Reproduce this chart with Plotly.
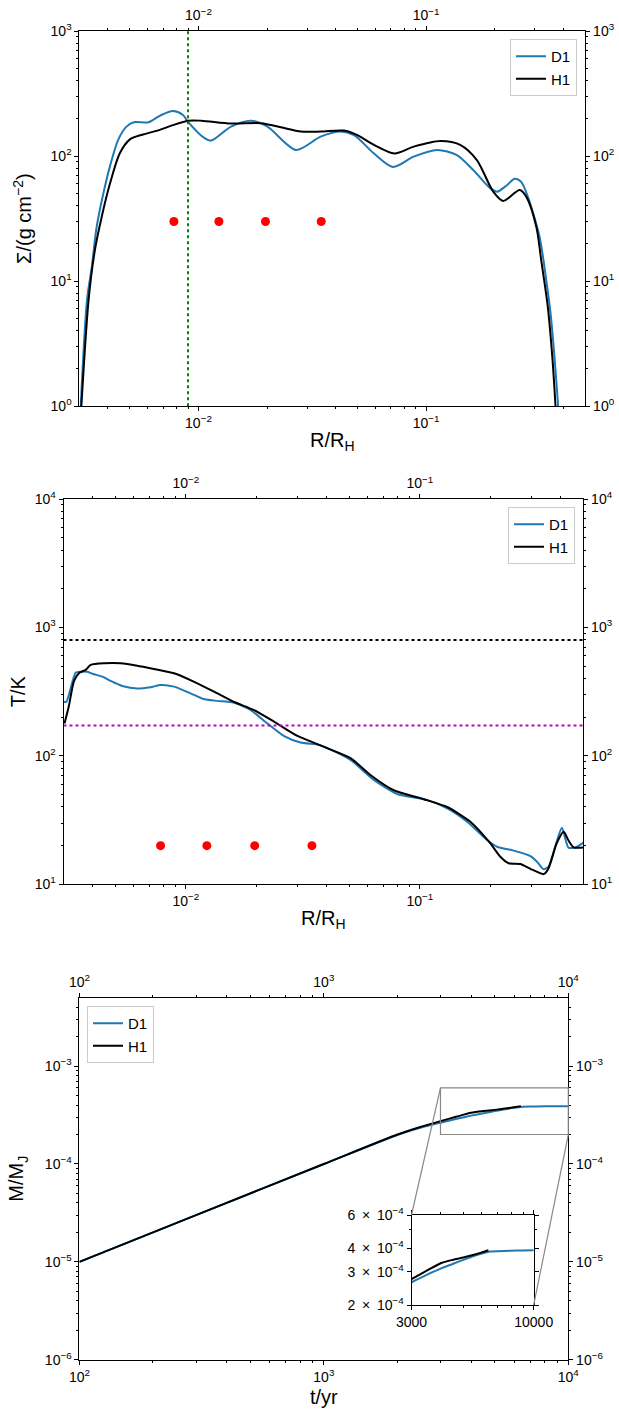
import numpy as np
import plotly.graph_objects as go

# ---------------- data ----------------
# Panel 1: surface density vs radius
r_sig_D1 = [0.00304, 0.00324, 0.0034, 0.00357, 0.00382, 0.00408, 0.00444, 0.00483, 0.00525,
            0.00601, 0.00676, 0.00773, 0.00855, 0.0090, 0.01064, 0.01137, 0.0139, 0.0170,
            0.0201, 0.0268, 0.0344, 0.0421, 0.0482, 0.059, 0.0715, 0.0882, 0.1116, 0.1365,
            0.1614, 0.19, 0.205, 0.225, 0.245, 0.262, 0.28, 0.295, 0.316, 0.335, 0.352,
            0.367, 0.38]
sig_D1 = [1.0, 7.1, 13, 27, 50, 82, 135, 172, 187,
          186, 210, 229, 213, 188, 139, 133, 172, 192,
          172, 112, 143, 157, 147, 105, 82, 99, 112, 102,
          77, 56, 52, 58, 66, 62, 47, 35, 22, 11, 5.5,
          2.35, 1.0]
r_sig_H1 = [0.00306, 0.00329, 0.00351, 0.00376, 0.00409, 0.00451, 0.0050, 0.00572, 0.00676,
            0.00773, 0.0090, 0.01029, 0.0139, 0.01884, 0.0230, 0.0282, 0.0344, 0.0436,
            0.0499, 0.059, 0.0725, 0.0882, 0.1153, 0.141, 0.167, 0.197, 0.218, 0.2576,
            0.276, 0.305, 0.32, 0.342, 0.359, 0.37]
sig_H1 = [1.0, 7, 17.8, 32.8, 60.6, 105, 136, 149, 162,
          177, 192, 192, 182, 183, 170, 157, 157, 160,
          147, 123, 105, 119, 132, 123, 93, 52, 43.8, 53.6,
          47, 27, 14.8, 6.3, 2.35, 1.0]

# Panel 2: temperature vs radius
r_T_D1 = [0.00301, 0.00309, 0.00338, 0.00355, 0.00379, 0.00405, 0.0044, 0.00477, 0.00535,
          0.0062, 0.00706, 0.0078, 0.0089, 0.01047, 0.0119, 0.0136, 0.016, 0.0189, 0.0223,
          0.0262, 0.0309, 0.037, 0.0402, 0.0506, 0.0636, 0.08, 0.1074, 0.131, 0.159,
          0.194, 0.214, 0.252, 0.297, 0.317, 0.338, 0.355, 0.379, 0.405, 0.432, 0.462, 0.5]
T_D1 = [264, 264, 444, 452, 452, 432, 414, 383, 350,
        334, 342, 356, 346, 307, 277, 268, 260, 228, 179,
        143, 127, 122, 115, 93, 65, 50.5, 45.4, 39, 30.8,
        22.1, 19.6, 18.3, 16.6, 15, 13.1, 13.7, 19.6, 27.6, 19.3, 19.3, 21.1]
r_T_H1 = [0.00303, 0.00316, 0.00332, 0.00349, 0.00373, 0.00392, 0.00447, 0.00526, 0.0062,
          0.0073, 0.0089, 0.0108, 0.0132, 0.016, 0.0195, 0.0238, 0.0300, 0.0402, 0.0506,
          0.0615, 0.0774, 0.104, 0.131, 0.164, 0.2, 0.221, 0.24, 0.269, 0.297, 0.338,
          0.355, 0.385, 0.412, 0.432, 0.454, 0.5]
T_H1 = [179, 242, 379, 440, 467, 511, 526, 526, 504,
        475, 440, 379, 316, 264, 228, 185, 143, 115, 96,
        71, 54, 46, 40, 30.8, 20.9, 16.4, 14.6, 14.4, 13.2, 12,
        13.3, 20.9, 25.7, 22, 19.4, 19.3]

# Panel 3: mass vs time
t_D1 = [100, 300, 1000, 2000, 2500, 3000, 3500, 4000, 4500, 5000, 5500, 6000, 6500,
        7000, 8000, 9000, 10000]
M_D1 = [1.0e-5, 3.0e-5, 1.0e-4, 1.98e-4, 2.35e-4, 2.64e-4, 2.9e-4, 3.12e-4, 3.3e-4,
        3.47e-4, 3.62e-4, 3.75e-4, 3.84e-4, 3.86e-4, 3.88e-4, 3.89e-4, 3.9e-4]
t_H1 = [100, 300, 1000, 2000, 2500, 3000, 3500, 4000, 4500, 5000, 5500, 6000, 6400]
M_H1 = [1.0e-5, 3.0e-5, 1.0e-4, 2.0e-4, 2.4e-4, 2.74e-4, 3.05e-4, 3.33e-4, 3.47e-4,
        3.57e-4, 3.68e-4, 3.8e-4, 3.9e-4]

# markers and reference lines
r_dots = [0.0078, 0.0123, 0.0197, 0.0346]
sig_dot_level = 30
T_dot_level = 20
r_green = 0.009
T_black_line = 800
T_magenta_line = 172

# axis ranges
r_range = [0.003, 0.5]
sig_range = [1, 1000]
T_range = [10, 1e4]
t_range = [100, 1e4]
M_range = [1e-6, 5e-3]
inset_t_range = [3000, 1e4]
inset_M_range = [2e-4, 6e-4]
inset_t_ticks = [3000, 10000]
inset_t_labels = ["3000", "10000"]
inset_t_minor = [4000, 5000, 6000, 7000, 8000, 9000]
inset_M_ticks = [2e-4, 3e-4, 4e-4, 6e-4]
inset_M_labels = ["%d\u00a0\u2009×\u2009\u00a010<sup>−4</sup>" % k for k in (2, 3, 4, 6)]
inset_M_minor = [5e-4]

BLUE = "#1f77b4"
FONT = "Liberation Sans, Arial, sans-serif"
TICKSIZE = 14

# page geometry (body margin removed in the page, see write_html below)
PAGE_W, PAGE_H, OFF = 619, 1412, 0
FIG_W, FIG_H = PAGE_W - OFF, PAGE_H - OFF


def fx(px):
    return (px - OFF) / FIG_W


def fy(py):
    return 1 - (py - OFF) / FIG_H


# plot boxes in page pixels: (left, right, top, bottom)
D1x, D1y = [fx(79.4), fx(585.3)], [fy(406.3), fy(31.0)]
D2x, D2y = [fx(63.5), fx(583.3)], [fy(884.3), fy(499.0)]
D3x, D3y = [fx(79.4), fx(568.3)], [fy(1359.7), fy(997.7)]
DIx, DIy = [fx(411.5), fx(533.7)], [fy(1305.0), fy(1215.0)]


def lg(v):
    return float(np.log10(v))


def majors(rng):
    lo, hi = int(np.ceil(lg(rng[0]) - 1e-9)), int(np.floor(lg(rng[1]) + 1e-9))
    return [10.0 ** d for d in range(lo, hi + 1)]


def minors(rng):
    out = []
    for d in range(int(np.floor(lg(rng[0]))), int(np.ceil(lg(rng[1]))) + 1):
        for m in range(2, 10):
            v = m * 10.0 ** d
            if rng[0] < v < rng[1]:
                out.append(v)
    return out


def label(v):
    e = int(round(lg(v)))
    return "10<sup>%s</sup>" % (str(e).replace("-", "−"))


def log_axis(rng, domain, anchor, side=None, overlaying=None, title=None, standoff=4,
             tickvals=None, ticktext=None, minor_vals=None, fsize=TICKSIZE, mirror=False):
    tv = tickvals if tickvals is not None else majors(rng)
    tt = ticktext if ticktext is not None else [label(v) for v in tv]
    mv = minor_vals if minor_vals is not None else minors(rng)
    ax = dict(type="log", range=[lg(rng[0]), lg(rng[1])], domain=domain, anchor=anchor,
              automargin=False,
              showline=True, linecolor="black", linewidth=1, mirror=mirror,
              ticks="outside", ticklen=4, tickwidth=1, tickcolor="black",
              tickmode="array", tickvals=tv, ticktext=tt,
              minor=dict(tickmode="array", tickvals=mv, ticks="outside", ticklen=2,
                         tickwidth=1, tickcolor="black"),
              showgrid=False, zeroline=False,
              tickfont=dict(size=fsize, color="black", family=FONT))
    if side:
        ax["side"] = side
    if overlaying:
        ax["overlaying"] = overlaying
    if title:
        ax["title"] = dict(text=title, font=dict(size=20, color="black", family=FONT),
                           standoff=standoff)
    return ax


fig = go.Figure()

# ---- Panel 1 ----
fig.add_trace(go.Scatter(x=r_sig_D1, y=sig_D1, mode="lines", name="D1",
                         line=dict(color=BLUE, width=2, shape="spline", smoothing=0.8),
                         xaxis="x", yaxis="y", legend="legend"))
fig.add_trace(go.Scatter(x=r_sig_H1, y=sig_H1, mode="lines", name="H1",
                         line=dict(color="black", width=2, shape="spline", smoothing=0.8),
                         xaxis="x", yaxis="y", legend="legend"))
fig.add_trace(go.Scatter(x=[r_green, r_green], y=sig_range, mode="lines", showlegend=False,
                         line=dict(color="#008000", width=2, dash="dot"), xaxis="x", yaxis="y"))
fig.add_trace(go.Scatter(x=r_dots, y=[sig_dot_level] * len(r_dots), mode="markers",
                         showlegend=False, marker=dict(color="red", size=9),
                         xaxis="x", yaxis="y"))
fig.add_trace(go.Scatter(x=[None], y=[None], showlegend=False, hoverinfo="skip",
                         xaxis="x2", yaxis="y2"))

# ---- Panel 2 ----
fig.add_trace(go.Scatter(x=r_T_D1, y=T_D1, mode="lines", name="D1",
                         line=dict(color=BLUE, width=2, shape="spline", smoothing=0.6),
                         xaxis="x3", yaxis="y3", legend="legend2"))
fig.add_trace(go.Scatter(x=r_T_H1, y=T_H1, mode="lines", name="H1",
                         line=dict(color="black", width=2, shape="spline", smoothing=0.6),
                         xaxis="x3", yaxis="y3", legend="legend2"))
fig.add_trace(go.Scatter(x=r_range, y=[T_black_line] * 2, mode="lines", showlegend=False,
                         line=dict(color="black", width=2, dash="dot"), xaxis="x3", yaxis="y3"))
fig.add_trace(go.Scatter(x=r_range, y=[T_magenta_line] * 2, mode="lines", showlegend=False,
                         line=dict(color="#c000c0", width=2, dash="dot"), xaxis="x3", yaxis="y3"))
fig.add_trace(go.Scatter(x=r_dots, y=[T_dot_level] * len(r_dots), mode="markers",
                         showlegend=False, marker=dict(color="red", size=9),
                         xaxis="x3", yaxis="y3"))
fig.add_trace(go.Scatter(x=[None], y=[None], showlegend=False, hoverinfo="skip",
                         xaxis="x4", yaxis="y4"))

# ---- Panel 3 ----
fig.add_trace(go.Scatter(x=t_D1, y=M_D1, mode="lines", name="D1",
                         line=dict(color=BLUE, width=2, shape="spline", smoothing=0.6),
                         xaxis="x5", yaxis="y5", legend="legend3"))
fig.add_trace(go.Scatter(x=t_H1, y=M_H1, mode="lines", name="H1",
                         line=dict(color="black", width=2, shape="spline", smoothing=0.6),
                         xaxis="x5", yaxis="y5", legend="legend3"))
fig.add_trace(go.Scatter(x=[None], y=[None], showlegend=False, hoverinfo="skip",
                         xaxis="x6", yaxis="y6"))

# ---- Inset ----
fig.add_trace(go.Scatter(x=t_D1, y=M_D1, mode="lines", showlegend=False,
                         line=dict(color=BLUE, width=2, shape="spline", smoothing=0.6),
                         xaxis="x7", yaxis="y7"))
fig.add_trace(go.Scatter(x=t_H1, y=M_H1, mode="lines", showlegend=False,
                         line=dict(color="black", width=2, shape="spline", smoothing=0.6),
                         xaxis="x7", yaxis="y7"))


def to_paper(v, rng, dom):
    return dom[0] + (lg(v) - lg(rng[0])) / (lg(rng[1]) - lg(rng[0])) * (dom[1] - dom[0])


# zoom rectangle & connectors (computed from the inset ranges)
rx0 = to_paper(inset_t_range[0], t_range, D3x)
rx1 = to_paper(inset_t_range[1], t_range, D3x)
ry0 = to_paper(inset_M_range[0], M_range, D3y)
ry1 = to_paper(inset_M_range[1], M_range, D3y)
GRAY = "#888888"
shapes = [
    dict(type="rect", xref="paper", yref="paper", x0=rx0, x1=rx1, y0=ry0, y1=ry1,
         line=dict(color=GRAY, width=1.2)),
    dict(type="line", xref="paper", yref="paper", x0=rx0, y0=ry1, x1=DIx[0], y1=DIy[1],
         line=dict(color=GRAY, width=1.2)),
    dict(type="line", xref="paper", yref="paper", x0=rx1, y0=ry0, x1=DIx[1], y1=DIy[0],
         line=dict(color=GRAY, width=1.2)),
]

legend_style = dict(bgcolor="white", bordercolor="#cccccc", borderwidth=1,
                    font=dict(size=15, color="black", family=FONT), itemwidth=30,
                    tracegroupgap=2)

fig.update_layout(
    width=FIG_W, height=FIG_H, margin=dict(l=0, r=0, t=0, b=0, autoexpand=False),
    paper_bgcolor="white", plot_bgcolor="white",
    font=dict(family=FONT, color="black"),
    xaxis=log_axis(r_range, D1x, "y", title="R/R<sub>H</sub>", standoff=2),
    yaxis=log_axis(sig_range, D1y, "x", title="Σ/(g cm<sup>−2</sup>)", standoff=13),
    xaxis2=log_axis(r_range, D1x, "y", side="top", overlaying="x"),
    yaxis2=log_axis(sig_range, D1y, "x", side="right", overlaying="y"),
    xaxis3=log_axis(r_range, D2x, "y3", title="R/R<sub>H</sub>", standoff=2),
    yaxis3=log_axis(T_range, D2y, "x3", title="T/K", standoff=3),
    xaxis4=log_axis(r_range, D2x, "y3", side="top", overlaying="x3"),
    yaxis4=log_axis(T_range, D2y, "x3", side="right", overlaying="y3"),
    xaxis5=log_axis(t_range, D3x, "y5", title="t/yr", standoff=6),
    yaxis5=log_axis(M_range, D3y, "x5", title="M/M<sub>J</sub>", standoff=15),
    xaxis6=log_axis(t_range, D3x, "y5", side="top", overlaying="x5"),
    yaxis6=log_axis(M_range, D3y, "x5", side="right", overlaying="y5"),
    xaxis7=log_axis(inset_t_range, DIx, "y7", tickvals=inset_t_ticks,
                    ticktext=inset_t_labels, minor_vals=inset_t_minor, mirror="allticks"),
    yaxis7=log_axis(inset_M_range, DIy, "x7", tickvals=inset_M_ticks,
                    ticktext=inset_M_labels, minor_vals=inset_M_minor, mirror="allticks"),
    legend=dict(x=fx(577), y=fy(39), xanchor="right", yanchor="top", **legend_style),
    legend2=dict(x=fx(575), y=fy(507), xanchor="right", yanchor="top", **legend_style),
    legend3=dict(x=fx(87), y=fy(1006), xanchor="left", yanchor="top", **legend_style),
    shapes=shapes,
    showlegend=True,
)

fig.write_html("out.html",
               config={"displayModeBar": False},
               post_script="document.body.style.margin='0px';"
                           "document.body.style.overflow='hidden';")
